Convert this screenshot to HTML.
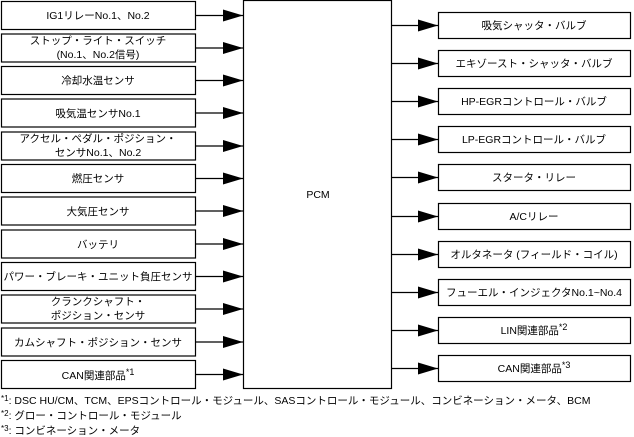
<!DOCTYPE html>
<html><head><meta charset="utf-8"><style>
html,body{margin:0;padding:0;background:#fff;}
svg{display:block;}
text{font-family:"Liberation Sans","Noto Sans CJK JP",sans-serif;font-size:10.5px;fill:#000;}
</style></head><body>
<svg width="634" height="437" viewBox="0 0 634 437" xmlns="http://www.w3.org/2000/svg">
<defs>
<marker id="a" markerWidth="20" markerHeight="12" refX="20" refY="6" orient="auto" markerUnits="userSpaceOnUse">
<path d="M0,0 L20,6 L0,12 Z" fill="#000"/></marker>
</defs>
<g stroke="#000" stroke-width="1.2" fill="#fff">
<rect x="243.5" y="0.5" width="148" height="388"/>
</g>
<text x="318" y="198" text-anchor="middle">PCM</text>
<g id="left" stroke="#000" stroke-width="1.2" fill="#fff">
<rect x="1.5" y="1.5" width="194" height="28"/>
<rect x="1.5" y="34" width="194" height="28"/>
<rect x="1.5" y="66.5" width="194" height="28"/>
<rect x="1.5" y="99" width="194" height="28"/>
<rect x="1.5" y="132" width="194" height="28"/>
<rect x="1.5" y="164.5" width="194" height="28"/>
<rect x="1.5" y="197" width="194" height="28"/>
<rect x="1.5" y="230" width="194" height="28"/>
<rect x="1.5" y="262.5" width="194" height="28"/>
<rect x="1.5" y="295" width="194" height="28"/>
<rect x="1.5" y="328" width="194" height="28"/>
<rect x="1.5" y="360.5" width="194" height="28"/>
</g>
<g stroke="#000" stroke-width="1.2" marker-end="url(#a)">
<line x1="196" y1="15.5" x2="243" y2="15.5"/>
<line x1="196" y1="48" x2="243" y2="48"/>
<line x1="196" y1="80.5" x2="243" y2="80.5"/>
<line x1="196" y1="113" x2="243" y2="113"/>
<line x1="196" y1="146" x2="243" y2="146"/>
<line x1="196" y1="178.5" x2="243" y2="178.5"/>
<line x1="196" y1="211" x2="243" y2="211"/>
<line x1="196" y1="244" x2="243" y2="244"/>
<line x1="196" y1="276.5" x2="243" y2="276.5"/>
<line x1="196" y1="309" x2="243" y2="309"/>
<line x1="196" y1="342" x2="243" y2="342"/>
<line x1="196" y1="374.5" x2="243" y2="374.5"/>
</g>
<g text-anchor="middle">
<text x="98" y="19">IG1リレーNo.1、No.2</text>
<text x="98" y="44">ストップ・ライト・スイッチ</text>
<text x="98" y="58">(No.1、No.2信号)</text>
<text x="98" y="84">冷却水温センサ</text>
<text x="98" y="117">吸気温センサNo.1</text>
<text x="98" y="142">アクセル・ペダル・ポジション・</text>
<text x="98" y="156">センサNo.1、No.2</text>
<text x="98" y="182">燃圧センサ</text>
<text x="98" y="215">大気圧センサ</text>
<text x="98" y="248">バッテリ</text>
<text x="98" y="280">パワー・ブレーキ・ユニット負圧センサ</text>
<text x="98" y="305">クランクシャフト・</text>
<text x="98" y="319">ポジション・センサ</text>
<text x="98" y="346">カムシャフト・ポジション・センサ</text>
<text x="98" y="379">CAN関連部品<tspan dy="-4" font-size="9">*1</tspan></text>
</g>
<g stroke="#000" stroke-width="1.2" fill="#fff">
<rect x="438.5" y="12.5" width="192" height="26"/>
<rect x="438.5" y="50.5" width="192" height="26"/>
<rect x="438.5" y="88.5" width="192" height="26"/>
<rect x="438.5" y="126.5" width="192" height="26"/>
<rect x="438.5" y="164.5" width="192" height="26"/>
<rect x="438.5" y="203.5" width="192" height="26"/>
<rect x="438.5" y="241.5" width="192" height="26"/>
<rect x="438.5" y="279.5" width="192" height="26"/>
<rect x="438.5" y="317.5" width="192" height="26"/>
<rect x="438.5" y="355.5" width="192" height="26"/>
</g>
<g stroke="#000" stroke-width="1.2" marker-end="url(#a)">
<line x1="392" y1="25.5" x2="438" y2="25.5"/>
<line x1="392" y1="63.5" x2="438" y2="63.5"/>
<line x1="392" y1="101.5" x2="438" y2="101.5"/>
<line x1="392" y1="139.5" x2="438" y2="139.5"/>
<line x1="392" y1="177.5" x2="438" y2="177.5"/>
<line x1="392" y1="216.5" x2="438" y2="216.5"/>
<line x1="392" y1="254.5" x2="438" y2="254.5"/>
<line x1="392" y1="292.5" x2="438" y2="292.5"/>
<line x1="392" y1="330.5" x2="438" y2="330.5"/>
<line x1="392" y1="368.5" x2="438" y2="368.5"/>
</g>
<g text-anchor="middle">
<text x="534" y="29">吸気シャッタ・バルブ</text>
<text x="534" y="67">エキゾースト・シャッタ・バルブ</text>
<text x="534" y="105">HP-EGRコントロール・バルブ</text>
<text x="534" y="143">LP-EGRコントロール・バルブ</text>
<text x="534" y="181">スタータ・リレー</text>
<text x="534" y="220">A/Cリレー</text>
<text x="534" y="258">オルタネータ (フィールド・コイル)</text>
<text x="534" y="296">フューエル・インジェクタNo.1~No.4</text>
<text x="534" y="334">LIN関連部品<tspan dy="-4" font-size="9">*2</tspan></text>
<text x="534" y="372">CAN関連部品<tspan dy="-4" font-size="9">*3</tspan></text>
</g>
<g font-size="10">
<text x="1" y="404"><tspan font-size="8" dy="-3">*1</tspan><tspan dy="3">: DSC HU/CM、TCM、EPSコントロール・モジュール、SASコントロール・モジュール、コンビネーション・メータ、BCM</tspan></text>
<text x="1" y="419"><tspan font-size="8" dy="-3">*2</tspan><tspan dy="3">: グロー・コントロール・モジュール</tspan></text>
<text x="1" y="434"><tspan font-size="8" dy="-3">*3</tspan><tspan dy="3">: コンビネーション・メータ</tspan></text>
</g>
</svg>
</body></html>
